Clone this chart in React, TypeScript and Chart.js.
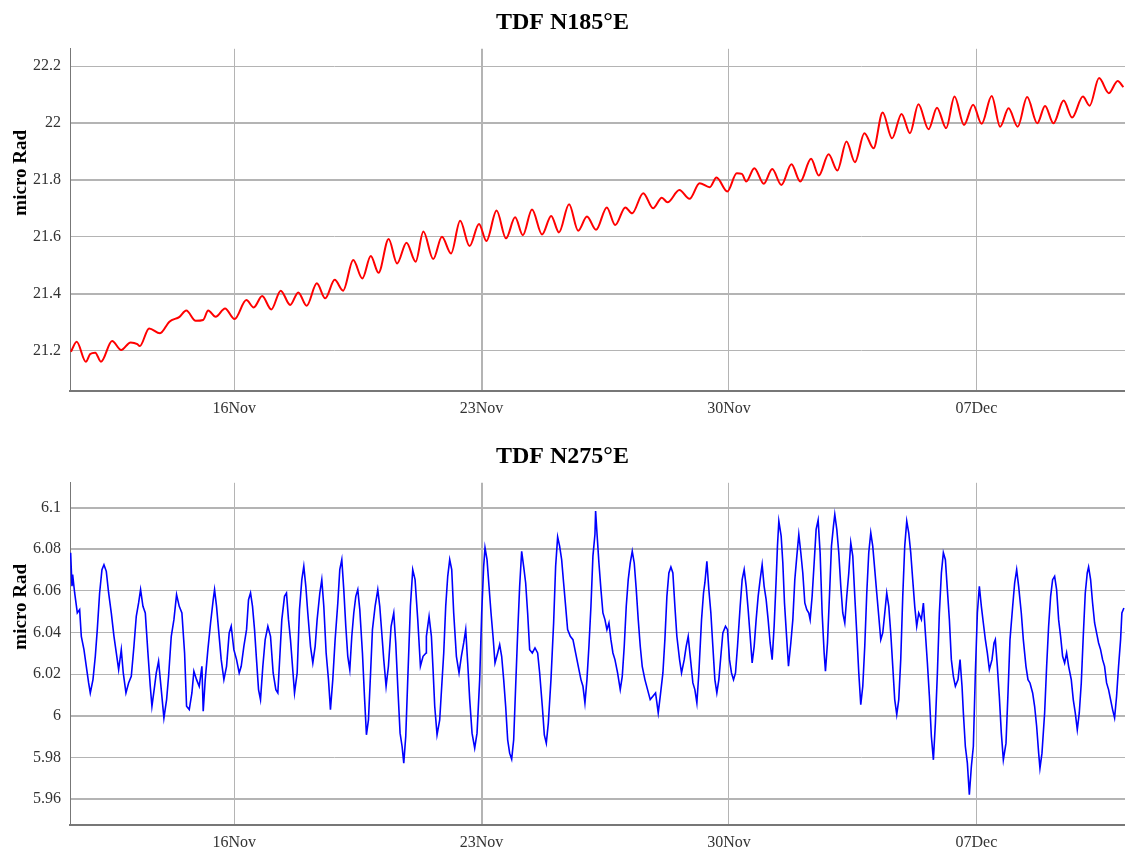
import React, { useEffect, useRef } from "react";
import { Chart, registerables } from "chart.js";

Chart.register(...registerables);

// ---------- shared axis data ----------
const xTickValues = [16, 23, 30, 37]; // day of November (Dec 7 = 37)
const xTickLabels = ["16Nov", "23Nov", "30Nov", "07Dec"];
const xMin = 11.355;
const xMax = 41.204;
const yAxisTitle = "micro Rad";

// ---------- top panel ----------
const topTitle = "TDF N185°E";
const topYTicks = [21.2, 21.4, 21.6, 21.8, 22, 22.2];
const topYLabels = ["21.2", "21.4", "21.6", "21.8", "22", "22.2"];
const topYMin = 21.057;
const topYMax = 22.261;

const topDays = [
  11.382, 11.544, 11.802, 11.926, 12.069, 12.231, 12.546, 12.803, 13.071, 13.261,
  13.328, 13.595, 13.901, 14.168, 14.454, 14.645, 14.912, 15.122, 15.265, 15.475,
  15.742, 16.010, 16.344, 16.553, 16.792, 17.050, 17.317, 17.584, 17.813, 18.052,
  18.338, 18.576, 18.844, 19.082, 19.368, 19.626, 19.865, 20.084, 20.370, 20.609,
  20.876, 21.134, 21.353, 21.630, 21.878, 22.136, 22.393, 22.660, 22.927, 23.137,
  23.424, 23.691, 23.948, 24.168, 24.426, 24.712, 24.969, 25.189, 25.475, 25.733,
  25.981, 26.239,
  26.542, 26.781, 27.067, 27.258, 27.574, 27.851, 28.099, 28.261, 28.596, 28.882,
  29.169, 29.455, 29.647, 29.952, 30.220, 30.363, 30.487, 30.716, 30.984, 31.223,
  31.481, 31.767, 32.016, 32.321, 32.541, 32.818, 33.066, 33.324, 33.563, 33.831,
  34.089, 34.347, 34.614, 34.882, 35.120, 35.359, 35.646, 35.885, 36.143, 36.381,
  36.649, 36.907, 37.146, 37.432, 37.671, 37.910, 38.168, 38.435, 38.722, 38.942,
  39.180, 39.467, 39.706, 40.012, 40.203, 40.470, 40.747, 40.996, 41.158,
];
const topValues = [
  21.195, 21.230, 21.160, 21.187, 21.192, 21.160, 21.233, 21.201, 21.228, 21.222,
  21.215, 21.277, 21.260, 21.301, 21.318, 21.340, 21.304, 21.307, 21.340, 21.318,
  21.347, 21.310, 21.377, 21.351, 21.391, 21.344, 21.410, 21.360, 21.404, 21.357,
  21.436, 21.383, 21.448, 21.410, 21.518, 21.453, 21.532, 21.473, 21.592, 21.506,
  21.579, 21.512, 21.618, 21.521, 21.600, 21.541, 21.656, 21.567, 21.645, 21.585,
  21.692, 21.594, 21.668, 21.605, 21.696, 21.608, 21.673, 21.615, 21.714, 21.621,
  21.671, 21.624,
  21.703, 21.641, 21.703, 21.682, 21.753, 21.700, 21.737, 21.721, 21.764, 21.733,
  21.788, 21.774, 21.808, 21.759, 21.823, 21.821, 21.794, 21.841, 21.786, 21.838,
  21.782, 21.855, 21.794, 21.874, 21.815, 21.890, 21.833, 21.935, 21.862, 21.964,
  21.911, 22.037, 21.946, 22.032, 21.964, 22.066, 21.978, 22.054, 21.982, 22.093,
  21.993, 22.064, 21.997, 22.095, 21.987, 22.052, 21.987, 22.091, 21.999, 22.060,
  21.999, 22.079, 22.019, 22.093, 22.061, 22.158, 22.105, 22.148, 22.126,
];

// ---------- bottom panel ----------
const bottomTitle = "TDF N275°E";
const bottomYTicks = [5.96, 5.98, 6, 6.02, 6.04, 6.06, 6.08, 6.1];
const bottomYLabels = ["5.96", "5.98", "6", "6.02", "6.04", "6.06", "6.08", "6.1"];
const bottomYMin = 5.9476;
const bottomYMax = 6.1119;

const bottomDays = [
  11.373, 11.411, 11.430, 11.487, 11.562, 11.628, 11.675, 11.750, 11.816, 11.882,
  11.929, 12.005, 12.071, 12.127, 12.193, 12.259, 12.316, 12.382, 12.448, 12.523,
  12.599, 12.665, 12.731, 12.806, 12.862, 12.938, 13.013, 13.089, 13.164, 13.230,
  13.296, 13.352, 13.419, 13.485, 13.560, 13.626, 13.673, 13.748, 13.796, 13.861,
  13.937, 14.012, 14.088, 14.144, 14.220, 14.295, 14.370, 14.446, 14.521, 14.597,
  14.653, 14.729, 14.804, 14.860, 14.936, 15.011, 15.087, 15.124, 15.181, 15.256,
  15.332, 15.407, 15.445, 15.501, 15.558, 15.633, 15.709, 15.784, 15.859, 15.916,
  15.991, 16.067, 16.142, 16.199, 16.274, 16.350, 16.406, 16.463, 16.519, 16.576,
  16.632, 16.689, 16.745, 16.811, 16.877, 16.953, 17.028, 17.103, 17.179, 17.235,
  17.292, 17.348, 17.424, 17.480, 17.537, 17.593, 17.650, 17.707, 17.782, 17.848,
  17.914, 17.970, 18.027, 18.083, 18.159, 18.225, 18.291, 18.347, 18.423, 18.479,
  18.536, 18.602, 18.668, 18.724, 18.790, 18.856, 18.932, 18.988, 19.045, 19.101,
  19.158, 19.214, 19.271, 19.328, 19.384, 19.441, 19.497, 19.554, 19.629, 19.686,
  19.742, 19.799, 19.855, 19.912, 19.987, 20.063, 20.119, 20.176, 20.232, 20.298,
  20.364, 20.440, 20.515, 20.571, 20.628, 20.694, 20.751, 20.798, 20.854, 20.911,
  20.986, 21.052, 21.118, 21.194, 21.269, 21.344, 21.429,
  21.438, 21.514, 21.580, 21.627, 21.674, 21.740, 21.815, 21.872, 21.929, 21.985,
  22.042, 22.098, 22.155, 22.211, 22.287, 22.362, 22.428, 22.494, 22.551, 22.607,
  22.664, 22.730, 22.805, 22.871, 22.946, 23.003, 23.059, 23.097, 23.154, 23.210,
  23.267, 23.323, 23.380, 23.455, 23.512, 23.568, 23.625, 23.681, 23.738, 23.794,
  23.851, 23.908, 23.964, 24.021, 24.077, 24.134, 24.190, 24.247, 24.303, 24.360,
  24.435, 24.511, 24.586, 24.643, 24.718, 24.775, 24.831, 24.888, 24.963, 25.038,
  25.095, 25.152, 25.208, 25.265, 25.321, 25.378, 25.434, 25.510, 25.585, 25.660,
  25.736, 25.811, 25.868, 25.924, 25.981, 26.037, 26.094, 26.150, 26.207, 26.226,
  26.264, 26.320, 26.377, 26.433, 26.490, 26.546, 26.603, 26.659, 26.716, 26.773,
  26.848, 26.923, 26.980, 27.036, 27.093, 27.149, 27.206, 27.263, 27.319, 27.376,
  27.432, 27.489, 27.545, 27.621, 27.696, 27.771, 27.847, 27.922, 27.998, 28.054,
  28.130, 28.186, 28.243, 28.299, 28.356, 28.412, 28.469, 28.525, 28.601, 28.657,
  28.733, 28.789, 28.846, 28.902, 28.978, 29.034, 29.091, 29.147, 29.223, 29.279,
  29.317, 29.374, 29.430, 29.487, 29.543, 29.600, 29.656, 29.713, 29.769, 29.826,
  29.901, 29.958, 30.014, 30.071, 30.128, 30.184, 30.241, 30.316, 30.372, 30.429,
  30.486, 30.542, 30.599, 30.655, 30.712, 30.768, 30.825, 30.881, 30.938, 30.994,
  31.051, 31.107, 31.164, 31.221, 31.277, 31.334, 31.371,
  31.410, 31.476, 31.523, 31.570, 31.617, 31.683, 31.749, 31.806, 31.862, 31.919,
  31.975, 32.032, 32.088, 32.145, 32.201, 32.258, 32.296, 32.352, 32.409, 32.465,
  32.522, 32.578, 32.635, 32.692, 32.729, 32.786, 32.842, 32.899, 32.955, 32.993,
  33.050, 33.106, 33.163, 33.219, 33.276, 33.332, 33.389, 33.445, 33.502, 33.559,
  33.615, 33.672, 33.728, 33.785, 33.841, 33.898, 33.954, 34.011, 34.067, 34.124,
  34.180, 34.237, 34.294, 34.350, 34.407, 34.463, 34.520, 34.576, 34.633, 34.689,
  34.746, 34.803, 34.859, 34.916, 34.972, 35.029, 35.085, 35.142, 35.198, 35.255,
  35.311, 35.368, 35.443, 35.500, 35.556, 35.613, 35.670, 35.726, 35.783, 35.839,
  35.896, 35.952, 36.009, 36.065, 36.122, 36.178, 36.235, 36.291, 36.348, 36.405,
  36.480, 36.537, 36.593, 36.631, 36.687, 36.744, 36.800, 36.857, 36.913, 36.970,
  37.027, 37.083, 37.140, 37.196, 37.253, 37.309, 37.366, 37.441, 37.498, 37.535,
  37.592, 37.648, 37.705, 37.762, 37.837, 37.894, 37.950, 38.026, 38.082, 38.139,
  38.195, 38.270, 38.327, 38.402, 38.459, 38.516, 38.591, 38.647, 38.704, 38.761,
  38.798, 38.855, 38.930, 38.987, 39.043, 39.100, 39.156, 39.213, 39.269, 39.326,
  39.382, 39.439, 39.496, 39.552, 39.609, 39.684, 39.740, 39.797, 39.854, 39.910,
  39.967, 40.023, 40.080, 40.136, 40.174, 40.231, 40.287, 40.344, 40.400, 40.457,
  40.513, 40.570, 40.626, 40.683, 40.739, 40.796, 40.853, 40.909, 40.966, 41.022,
  41.079, 41.116, 41.173,
];
const bottomValues = [
  6.0783, 6.0622, 6.0678, 6.0590, 6.0494, 6.0510, 6.0382, 6.0318, 6.0238, 6.0158,
  6.0110, 6.0174, 6.0286, 6.0414, 6.0590, 6.0702, 6.0726, 6.0694, 6.0590, 6.0494,
  6.0382, 6.0302, 6.0222, 6.0318, 6.0206, 6.0110, 6.0158, 6.0190, 6.0334, 6.0478,
  6.0542, 6.0606, 6.0526, 6.0494, 6.0302, 6.0142, 6.0046, 6.0142, 6.0206, 6.0262,
  6.0126, 5.9990, 6.0078, 6.0190, 6.0382, 6.0462, 6.0582, 6.0526, 6.0494, 6.0302,
  6.0046, 6.0030, 6.0110, 6.0214, 6.0174, 6.0142, 6.0238, 6.0022, 6.0174, 6.0318,
  6.0446, 6.0558, 6.0606, 6.0526, 6.0414, 6.0270, 6.0174, 6.0238, 6.0398, 6.0430,
  6.0318, 6.0270, 6.0206, 6.0238, 6.0334, 6.0414, 6.0558, 6.0590, 6.0526, 6.0414,
  6.0270, 6.0126, 6.0078, 6.0238, 6.0366, 6.0430, 6.0382, 6.0206, 6.0126, 6.0110,
  6.0286, 6.0462, 6.0574, 6.0590, 6.0462, 6.0366, 6.0238, 6.0110, 6.0206, 6.0510,
  6.0654, 6.0718, 6.0622, 6.0494, 6.0334, 6.0254, 6.0334, 6.0462, 6.0590, 6.0654,
  6.0526, 6.0302, 6.0174, 6.0030, 6.0174, 6.0366, 6.0542, 6.0702, 6.0750, 6.0606,
  6.0430, 6.0286, 6.0222, 6.0382, 6.0494, 6.0574, 6.0606, 6.0510, 6.0302, 6.0094,
  5.9909, 5.9981, 6.0190, 6.0414, 6.0526, 6.0606, 6.0526, 6.0398, 6.0270, 6.0142,
  6.0238, 6.0430, 6.0494, 6.0350, 6.0142, 5.9917, 5.9853, 5.9773, 5.9901, 6.0174,
  6.0526, 6.0702, 6.0654, 6.0462, 6.0238, 6.0286, 6.0302,
  6.0382, 6.0478, 6.0382, 6.0222, 6.0046, 5.9909, 5.9981, 6.0142, 6.0302, 6.0526,
  6.0670, 6.0750, 6.0702, 6.0494, 6.0286, 6.0206, 6.0286, 6.0350, 6.0414, 6.0254,
  6.0078, 5.9917, 5.9845, 5.9917, 6.0174, 6.0494, 6.0718, 6.0807, 6.0750, 6.0622,
  6.0494, 6.0382, 6.0254, 6.0302, 6.0342, 6.0286, 6.0174, 6.0046, 5.9885, 5.9821,
  5.9792, 5.9885, 6.0142, 6.0398, 6.0622, 6.0790, 6.0718, 6.0638, 6.0494, 6.0318,
  6.0302, 6.0326, 6.0302, 6.0206, 6.0046, 5.9909, 5.9869, 5.9965, 6.0174, 6.0446,
  6.0718, 6.0859, 6.0815, 6.0750, 6.0638, 6.0526, 6.0414, 6.0382, 6.0366, 6.0302,
  6.0238, 6.0174, 6.0142, 6.0062, 6.0174, 6.0334, 6.0526, 6.0767, 6.0871, 6.0983,
  6.0879, 6.0734, 6.0606, 6.0494, 6.0462, 6.0414, 6.0446, 6.0366, 6.0302, 6.0270,
  6.0206, 6.0126, 6.0190, 6.0334, 6.0526, 6.0654, 6.0734, 6.0790, 6.0734, 6.0606,
  6.0462, 6.0334, 6.0238, 6.0174, 6.0126, 6.0078, 6.0094, 6.0110, 6.0014, 6.0094,
  6.0206, 6.0366, 6.0574, 6.0686, 6.0715, 6.0686, 6.0526, 6.0382, 6.0270, 6.0206,
  6.0270, 6.0334, 6.0382, 6.0286, 6.0158, 6.0126, 6.0062, 6.0206, 6.0462, 6.0590,
  6.0638, 6.0742, 6.0606, 6.0494, 6.0334, 6.0174, 6.0110, 6.0174, 6.0286, 6.0398,
  6.0430, 6.0414, 6.0270, 6.0206, 6.0174, 6.0206, 6.0334, 6.0526, 6.0654, 6.0702,
  6.0622, 6.0510, 6.0382, 6.0254, 6.0334, 6.0462, 6.0574, 6.0654, 6.0726, 6.0622,
  6.0558, 6.0462, 6.0350, 6.0270, 6.0430, 6.0654, 6.0815,
  6.0935, 6.0863, 6.0734, 6.0542, 6.0414, 6.0238, 6.0350, 6.0462, 6.0654, 6.0767,
  6.0871, 6.0783, 6.0686, 6.0542, 6.0510, 6.0494, 6.0462, 6.0574, 6.0734, 6.0895,
  6.0940, 6.0783, 6.0494, 6.0302, 6.0214, 6.0350, 6.0574, 6.0815, 6.0911, 6.0967,
  6.0895, 6.0783, 6.0622, 6.0494, 6.0446, 6.0574, 6.0686, 6.0831, 6.0767, 6.0574,
  6.0398, 6.0206, 6.0054, 6.0142, 6.0334, 6.0590, 6.0783, 6.0879, 6.0815, 6.0702,
  6.0590, 6.0478, 6.0366, 6.0398, 6.0494, 6.0590, 6.0526, 6.0398, 6.0238, 6.0078,
  6.0006, 6.0078, 6.0270, 6.0574, 6.0815, 6.0935, 6.0879, 6.0783, 6.0654, 6.0526,
  6.0430, 6.0494, 6.0462, 6.0542, 6.0398, 6.0254, 6.0094, 5.9901, 5.9789, 5.9965,
  6.0206, 6.0494, 6.0686, 6.0783, 6.0750, 6.0606, 6.0462, 6.0270, 6.0190, 6.0142,
  6.0174, 6.0270, 6.0142, 6.0014, 5.9853, 5.9773, 5.9621, 5.9757, 5.9853, 6.0206,
  6.0494, 6.0622, 6.0526, 6.0446, 6.0366, 6.0302, 6.0222, 6.0270, 6.0350, 6.0366,
  6.0238, 6.0094, 5.9917, 5.9789, 5.9869, 6.0110, 6.0366, 6.0526, 6.0638, 6.0702,
  6.0622, 6.0494, 6.0366, 6.0238, 6.0174, 6.0158, 6.0110, 6.0046, 5.9950, 5.9821,
  5.9749, 5.9821, 6.0014, 6.0238, 6.0430, 6.0574, 6.0654, 6.0670, 6.0606, 6.0462,
  6.0382, 6.0286, 6.0254, 6.0302, 6.0238, 6.0174, 6.0078, 6.0014, 5.9933, 6.0014,
  6.0158, 6.0382, 6.0590, 6.0686, 6.0715, 6.0654, 6.0542, 6.0446, 6.0398, 6.0350,
  6.0318, 6.0270, 6.0238, 6.0158, 6.0126, 6.0078, 6.0030, 5.9990, 6.0094, 6.0238,
  6.0366, 6.0494, 6.0518,
];

const SERIF = '"Liberation Serif", "Times New Roman", "DejaVu Serif", serif';

type PanelProps = {
  title: string;
  days: number[];
  values: number[];
  color: string;
  lineWidth: number;
  smooth: boolean;
  yTicks: number[];
  yLabels: string[];
  yMin: number;
  yMax: number;
  height: number;
  titlePadTop: number;
  titlePadBottom: number;
  xAxisHeight: number;
  thickY: number[];
  thickX: number[];
};

function Panel(p: PanelProps) {
  const ref = useRef<HTMLCanvasElement | null>(null);

  useEffect(() => {
    if (!ref.current) return;
    const axisTitlePlugin = {
      id: "axisTitleLeft",
      afterDraw(chart: any) {
        const { ctx, chartArea } = chart;
        ctx.save();
        ctx.translate(21, chartArea.top + 124);
        ctx.rotate(-Math.PI / 2);
        ctx.font = `bold 19px ${SERIF}`;
        ctx.fillStyle = "#000";
        ctx.textAlign = "center";
        ctx.textBaseline = "middle";
        ctx.fillText(yAxisTitle, 0, 0);
        ctx.restore();
      },
    };

    const chart = new Chart(ref.current, {
      type: "line",
      data: {
        datasets: [
          {
            data: p.days.map((d, i) => ({ x: d, y: p.values[i] })),
            borderColor: p.color,
            borderWidth: p.lineWidth,
            pointRadius: 0,
            tension: 0,
            cubicInterpolationMode: p.smooth ? "monotone" : "default",
            fill: false,
          },
        ],
      },
      options: {
        animation: false,
        responsive: false,
        maintainAspectRatio: false,
        devicePixelRatio: 1,
        layout: { padding: { left: 0, right: 0, top: 0, bottom: 0 } },
        plugins: {
          legend: { display: false },
          tooltip: { enabled: false },
          title: {
            display: true,
            text: p.title,
            color: "#000",
            font: { family: SERIF, size: 24, weight: "bold" },
            padding: { top: p.titlePadTop, bottom: p.titlePadBottom },
          },
        },
        scales: {
          x: {
            type: "linear",
            min: xMin,
            max: xMax,
            afterBuildTicks: (s: any) => {
              s.ticks = xTickValues.map((v) => ({ value: v }));
            },
            afterFit: (s: any) => {
              s.height = p.xAxisHeight;
            },
            ticks: {
              autoSkip: false,
              maxRotation: 0,
              padding: 8,
              color: "#333",
              font: { family: SERIF, size: 16 },
              callback: (_v: any, i: number) => xTickLabels[i],
            },
            grid: {
              drawTicks: false,
              color: "#b4b4b4",
              lineWidth: (c: any) => (p.thickX.includes(c.index) ? 2 : 1),
            },
            border: { display: true, color: "#777", width: 2 },
          },
          y: {
            type: "linear",
            min: p.yMin,
            max: p.yMax,
            afterBuildTicks: (s: any) => {
              s.ticks = p.yTicks.map((v) => ({ value: v }));
            },
            afterFit: (s: any) => {
              s.width = 70;
            },
            ticks: {
              padding: 9,
              color: "#333",
              font: { family: SERIF, size: 16 },
              callback: (_v: any, i: number) => p.yLabels[i],
            },
            grid: {
              drawTicks: false,
              color: "#b4b4b4",
              lineWidth: (c: any) => (p.thickY.includes(c.index) ? 2 : 1),
            },
            border: { display: true, color: "#777", width: 1 },
          },
        },
      },
      plugins: [axisTitlePlugin],
    } as any);

    return () => chart.destroy();
  }, []);

  return (
    <canvas
      ref={ref}
      width={1125}
      height={p.height}
      style={{ display: "block", width: 1125, height: p.height }}
    />
  );
}

export default function App() {
  return (
    <div style={{ position: "absolute", left: 0, top: 0, width: 1125, height: 852, background: "#fff" }}>
      <Panel
        title={topTitle}
        days={topDays}
        values={topValues}
        color="#ff0000"
        lineWidth={2}
        smooth={true}
        yTicks={topYTicks}
        yLabels={topYLabels}
        yMin={topYMin}
        yMax={topYMax}
        height={430}
        titlePadTop={8}
        titlePadBottom={12}
        xAxisHeight={39}
        thickY={[1, 3, 4]}
        thickX={[1]}
      />
      <Panel
        title={bottomTitle}
        days={bottomDays}
        values={bottomValues}
        color="#0000ff"
        lineWidth={1.6}
        smooth={false}
        yTicks={bottomYTicks}
        yLabels={bottomYLabels}
        yMin={bottomYMin}
        yMax={bottomYMax}
        height={422}
        titlePadTop={12}
        titlePadBottom={12}
        xAxisHeight={27}
        thickY={[0, 2, 6, 7]}
        thickX={[1]}
      />
    </div>
  );
}
